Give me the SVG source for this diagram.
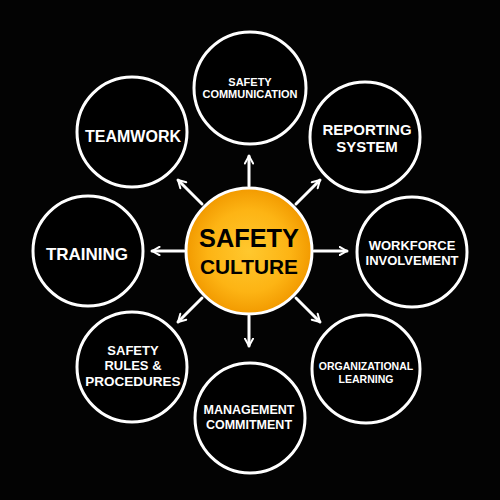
<svg xmlns="http://www.w3.org/2000/svg" width="500" height="500" viewBox="0 0 500 500">
  <style>
    .node circle { fill: #000; stroke: #fff; stroke-width: 3; }
    .lbl { fill: #fff; font-family: "Liberation Sans", Arial, sans-serif; font-weight: bold; text-anchor: middle; }
    .core { fill: #000; font-family: "Liberation Sans", Arial, sans-serif; font-weight: bold; text-anchor: middle; }
    .conn line { stroke: #fff; stroke-width: 3; stroke-linecap: round; }
  </style>
  <defs>
    <radialGradient id="orange" cx="50%" cy="50%" r="50%">
      <stop offset="0" stop-color="#FFC82E"/>
      <stop offset="0.65" stop-color="#FDB414"/>
      <stop offset="1" stop-color="#F29A00"/>
    </radialGradient>
    <marker id="arr" viewBox="0 0 10 10" refX="8.5" refY="5" markerWidth="10" markerHeight="10" markerUnits="userSpaceOnUse" orient="auto">
      <path d="M1,0.8 L8.5,5 L1,9.2" fill="none" stroke="#fff" stroke-width="2" stroke-linecap="round" stroke-linejoin="round"/>
    </marker>
  </defs>
  <rect width="500" height="500" fill="#030303"/>

  <g id="connectors" class="conn">
    <line x1="249" y1="186" x2="249" y2="156" marker-end="url(#arr)"/>
    <line x1="296" y1="204" x2="320" y2="180" marker-end="url(#arr)"/>
    <line x1="314" y1="251" x2="347" y2="251" marker-end="url(#arr)"/>
    <line x1="296" y1="298" x2="320" y2="322" marker-end="url(#arr)"/>
    <line x1="249" y1="316" x2="249" y2="346" marker-end="url(#arr)"/>
    <line x1="202" y1="298" x2="178" y2="322" marker-end="url(#arr)"/>
    <line x1="184" y1="251" x2="152" y2="251" marker-end="url(#arr)"/>
    <line x1="202" y1="204" x2="178" y2="180" marker-end="url(#arr)"/>
  </g>

  <g id="safety-culture">
    <circle cx="249" cy="251" r="63" fill="url(#orange)" stroke="#fff" stroke-width="3"/>
    <text class="core" x="249" y="247" font-size="26" textLength="100" lengthAdjust="spacingAndGlyphs">SAFETY</text>
    <text class="core" x="249" y="274" font-size="21" textLength="98" lengthAdjust="spacingAndGlyphs">CULTURE</text>
  </g>

  <g id="safety-communication" class="node">
    <circle cx="250" cy="88" r="56"/>
    <text class="lbl" x="250" y="85.5" font-size="11">SAFETY</text>
    <text class="lbl" x="250" y="98" font-size="11">COMMUNICATION</text>
  </g>

  <g id="reporting-system" class="node">
    <circle cx="365" cy="137" r="55"/>
    <text class="lbl" x="367" y="134.5" font-size="15">REPORTING</text>
    <text class="lbl" x="367" y="152" font-size="15">SYSTEM</text>
  </g>

  <g id="workforce-involvement" class="node">
    <circle cx="412" cy="252" r="55"/>
    <text class="lbl" x="412" y="250" font-size="13">WORKFORCE</text>
    <text class="lbl" x="412" y="265" font-size="13">INVOLVEMENT</text>
  </g>

  <g id="organizational-learning" class="node">
    <circle cx="366" cy="369" r="54"/>
    <text class="lbl" x="366" y="370" font-size="10.5">ORGANIZATIONAL</text>
    <text class="lbl" x="366" y="382.5" font-size="10.5">LEARNING</text>
  </g>

  <g id="management-commitment" class="node">
    <circle cx="250" cy="418" r="55"/>
    <text class="lbl" x="249" y="414" font-size="12.5">MANAGEMENT</text>
    <text class="lbl" x="249" y="428.5" font-size="12.5">COMMITMENT</text>
  </g>

  <g id="safety-rules-procedures" class="node">
    <circle cx="132" cy="367" r="55"/>
    <text class="lbl" x="133" y="355" font-size="13">SAFETY</text>
    <text class="lbl" x="133" y="370" font-size="13">RULES &amp;</text>
    <text class="lbl" x="133" y="385.5" font-size="13.5">PROCEDURES</text>
  </g>

  <g id="training" class="node">
    <circle cx="88" cy="251" r="55"/>
    <text class="lbl" x="87" y="260" font-size="17">TRAINING</text>
  </g>

  <g id="teamwork" class="node">
    <circle cx="132" cy="132" r="55"/>
    <text class="lbl" x="133" y="142" font-size="16">TEAMWORK</text>
  </g>
</svg>
